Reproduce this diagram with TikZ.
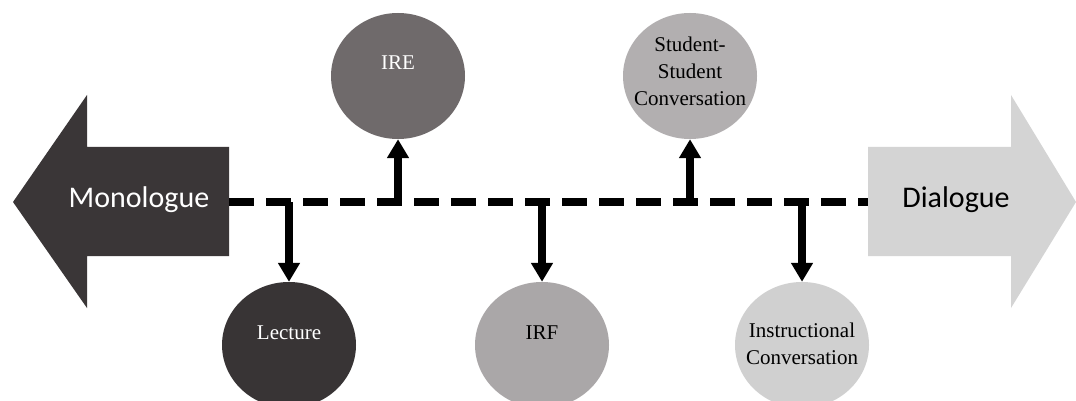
\documentclass[tikz,border=0pt]{standalone}
\usepackage{fontspec}
\setmainfont{Liberation Serif}
\newfontfamily\calib{Carlito}
\usetikzlibrary{arrows.meta,shapes.geometric}
\definecolor{cdark}{HTML}{3A3637}
\definecolor{clight}{HTML}{D4D4D4}
\definecolor{clect}{HTML}{383435}
\definecolor{cire}{HTML}{6F6A6B}
\definecolor{cirf}{HTML}{AAA7A8}
\definecolor{cstud}{HTML}{B2AFB0}
\definecolor{cinst}{HTML}{D0D0D0}
\tikzset{
  topic/.style={ellipse, minimum width=134pt, minimum height=126pt, inner sep=0pt},
  txt/.style={align=center, inner sep=0pt, font=\fontsize{21}{27}\selectfont},
  bigtext/.style={font=\calib\fontsize{30}{36}\selectfont},
  spine/.style={line width=8.5pt, dash pattern=on 25pt off 12pt},
  link/.style={line width=8pt, -{Triangle[width=21pt,length=19pt]}}
}
\begin{document}
\begin{tikzpicture}[x=1pt,y=-1pt]
\useasboundingbox (0,0) rectangle (1076,401);
\fill[white] (0,0) rectangle (1076,401);
% big arrows
\fill[cdark] (13,202) -- (87,95) -- (87,147) -- (229,147) -- (229,256) -- (87,256) -- (87,308) -- cycle;
\fill[clight] (1076,202) -- (1011,95) -- (1011,147) -- (868,147) -- (868,256) -- (1011,256) -- (1011,308) -- cycle;
\node[bigtext, text=white] (mono) at (139,200) {Monologue};
\node[bigtext, text=black] (dia) at (956,200) {Dialogue};
\coordinate (monoE) at (229,202);
\coordinate (diaW) at (868,202);
% spine
\draw[spine] (monoE) -- (diaW);
% topics
\node[topic, fill=cire, label={[txt, text=white, yshift=13pt]center:IRE}] (ire) at (398,76) {};
\node[topic, fill=cstud, label={[txt, text=black, yshift=5pt]center:Student-\\Student\\Conversation}] (stud) at (690,76) {};
\node[topic, fill=clect, label={[txt, text=white, yshift=12pt]center:Lecture}] (lect) at (289,345) {};
\node[topic, fill=cirf, label={[txt, text=black, yshift=12pt]center:IRF}] (irf) at (542,345) {};
\node[topic, fill=cinst, label={[txt, text=black, yshift=1pt]center:Instructional\\Conversation}] (inst) at (802,345) {};
% links
\draw[link] (monoE -| ire) -- (ire);
\draw[link] (monoE -| stud) -- (stud);
\draw[link] (monoE -| lect) -- (lect);
\draw[link] (monoE -| irf) -- (irf);
\draw[link] (monoE -| inst) -- (inst);
\end{tikzpicture}
\end{document}
